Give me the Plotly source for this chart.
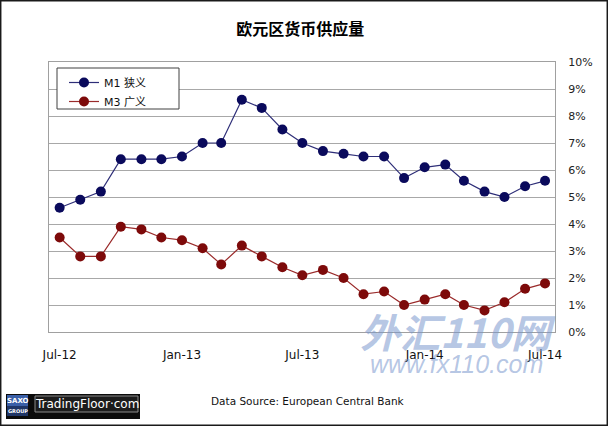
import plotly.graph_objects as go

# monthly observations, Jul-12 .. Jul-14
months = [
    "2012-07-01", "2012-08-01", "2012-09-01", "2012-10-01", "2012-11-01", "2012-12-01",
    "2013-01-01", "2013-02-01", "2013-03-01", "2013-04-01", "2013-05-01", "2013-06-01",
    "2013-07-01", "2013-08-01", "2013-09-01", "2013-10-01", "2013-11-01", "2013-12-01",
    "2014-01-01", "2014-02-01", "2014-03-01", "2014-04-01", "2014-05-01", "2014-06-01",
    "2014-07-01",
]
m1 = [4.6, 4.9, 5.2, 6.4, 6.4, 6.4, 6.5, 7.0, 7.0, 8.6, 8.3, 7.5,
      7.0, 6.7, 6.6, 6.5, 6.5, 5.7, 6.1, 6.2, 5.6, 5.2, 5.0, 5.4, 5.6]
m3 = [3.5, 2.8, 2.8, 3.9, 3.8, 3.5, 3.4, 3.1, 2.5, 3.2, 2.8, 2.4,
      2.1, 2.3, 2.0, 1.4, 1.5, 1.0, 1.2, 1.4, 1.0, 0.8, 1.1, 1.6, 1.8]

x_ticks = ["2012-07-01", "2013-01-01", "2013-07-01", "2014-01-01", "2014-07-01"]
x_ticktext = ["Jul-12", "Jan-13", "Jul-13", "Jan-14", "Jul-14"]
y_ticks = list(range(0, 11))
y_ticktext = [f"{v}%" for v in y_ticks]

# pixel frame of the plot area
W, H = 608, 426
L, R, T, B = 49, 53, 62, 94
PW, PH = W - L - R, H - T - B


def px(x):
    return (x - L) / PW


def py(y):
    return (H - B - y) / PH


fig = go.Figure()

fig.add_trace(go.Scatter(
    x=months, y=m1, name="M1 狭义", mode="lines+markers",
    line=dict(color="#2e2e78", width=1.2),
    marker=dict(color="#0a0a5c", size=10),
))
fig.add_trace(go.Scatter(
    x=months, y=m3, name="M3 广义", mode="lines+markers",
    line=dict(color="#9a2a2a", width=1.2),
    marker=dict(color="#7d0a0a", size=10),
))

shapes = [
    # outer frame
    dict(type="rect", xref="paper", yref="paper",
         x0=px(0.7), x1=px(607.3), y0=py(425.3), y1=py(0.7),
         line=dict(color="#1a1a1a", width=1.5), layer="below"),
    # legend box (wider than plotly's own)
    dict(type="rect", xref="paper", yref="paper",
         x0=px(57), x1=px(179), y0=py(109), y1=py(68),
         fillcolor="white", line=dict(color="#404040", width=1), layer="above"),
    # logo
    dict(type="rect", xref="paper", yref="paper",
         x0=px(6), x1=px(140), y0=py(419), y1=py(394),
         fillcolor="#0b0b0b", line=dict(width=0)),
    dict(type="rect", xref="paper", yref="paper",
         x0=px(7), x1=px(28), y0=py(406), y1=py(395),
         fillcolor="#3a5fa8", line=dict(width=0)),
    dict(type="rect", xref="paper", yref="paper",
         x0=px(7), x1=px(28), y0=py(416), y1=py(406),
         fillcolor="#1f3566", line=dict(width=0)),
    dict(type="rect", xref="paper", yref="paper",
         x0=px(35), x1=px(138), y0=py(412), y1=py(396),
         fillcolor="#1c1c1c", line=dict(color="#8a8a8a", width=1)),
]

annotations = [
    dict(text="Data Source: European Central Bank", xref="paper", yref="paper",
         x=px(209), y=py(401), xanchor="left", yanchor="middle", showarrow=False,
         font=dict(family="DejaVu Sans", size=10.5, color="#111111")),
    dict(text="<b>SAXO</b>", xref="paper", yref="paper",
         x=px(17.5), y=py(400.5), xanchor="center", yanchor="middle", showarrow=False,
         font=dict(family="DejaVu Sans", size=7, color="white")),
    dict(text="<b>GROUP</b>", xref="paper", yref="paper",
         x=px(17.5), y=py(411), xanchor="center", yanchor="middle", showarrow=False,
         font=dict(family="DejaVu Sans", size=5, color="white")),
    dict(text="TradingFloor·com", xref="paper", yref="paper",
         x=px(86.5), y=py(404), xanchor="center", yanchor="middle", showarrow=False,
         font=dict(family="DejaVu Sans", size=12, color="white")),
    # site watermark
    dict(text="<b><i>外汇110网</i></b>", xref="paper", yref="paper",
         x=px(458), y=py(331), xanchor="center", yanchor="middle", showarrow=False,
         font=dict(family="Noto Sans CJK SC", size=40, color="rgba(120,150,205,0.55)")),
    dict(text="<i>www.fx110.com</i>", xref="paper", yref="paper",
         x=px(456), y=py(364), xanchor="center", yanchor="middle", showarrow=False,
         font=dict(family="Liberation Sans", size=25, color="rgba(120,150,205,0.55)")),
]

fig.update_layout(
    width=W, height=H,
    margin=dict(l=L, r=R, t=T, b=B),
    paper_bgcolor="white", plot_bgcolor="white",
    title=dict(text="<b>欧元区货币供应量</b>", x=0.494, xanchor="center",
               y=1 - 29 / H, yanchor="middle",
               font=dict(family="Noto Sans CJK SC", size=16, color="#000000")),
    font=dict(family="DejaVu Sans", size=11, color="#222222"),
    showlegend=True,
    legend=dict(x=px(64), y=py(68), xanchor="left", yanchor="top",
                bgcolor="rgba(0,0,0,0)", borderwidth=0,
                font=dict(family="DejaVu Sans, Noto Sans CJK SC", size=11, color="#111111"),
                itemwidth=30, tracegroupgap=2),
    xaxis=dict(
        type="date",
        range=["2012-06-15", "2014-07-16"],
        tickvals=x_ticks, ticktext=x_ticktext,
        showgrid=False, zeroline=False,
        showline=True, mirror=True, linecolor="#a0a0a0", linewidth=1,
        ticks="", ticklabelstandoff=12,
        tickfont=dict(family="DejaVu Sans", size=12, color="#111111"),
    ),
    yaxis=dict(
        side="right",
        range=[0, 10],
        tickvals=y_ticks, ticktext=y_ticktext,
        showgrid=True, gridcolor="#a8a8a8", gridwidth=1,
        zeroline=False,
        showline=True, mirror=True, linecolor="#a0a0a0", linewidth=1,
        ticks="", ticklabelstandoff=10,
        tickfont=dict(family="DejaVu Sans", size=11, color="#222222"),
    ),
    shapes=shapes,
    annotations=annotations,
)

# the page body has a default 8px margin; drop it so the figure sits at (0, 0)
fig.write_html("out.html", config={"displayModeBar": False},
               post_script="document.body.style.margin='0';")
